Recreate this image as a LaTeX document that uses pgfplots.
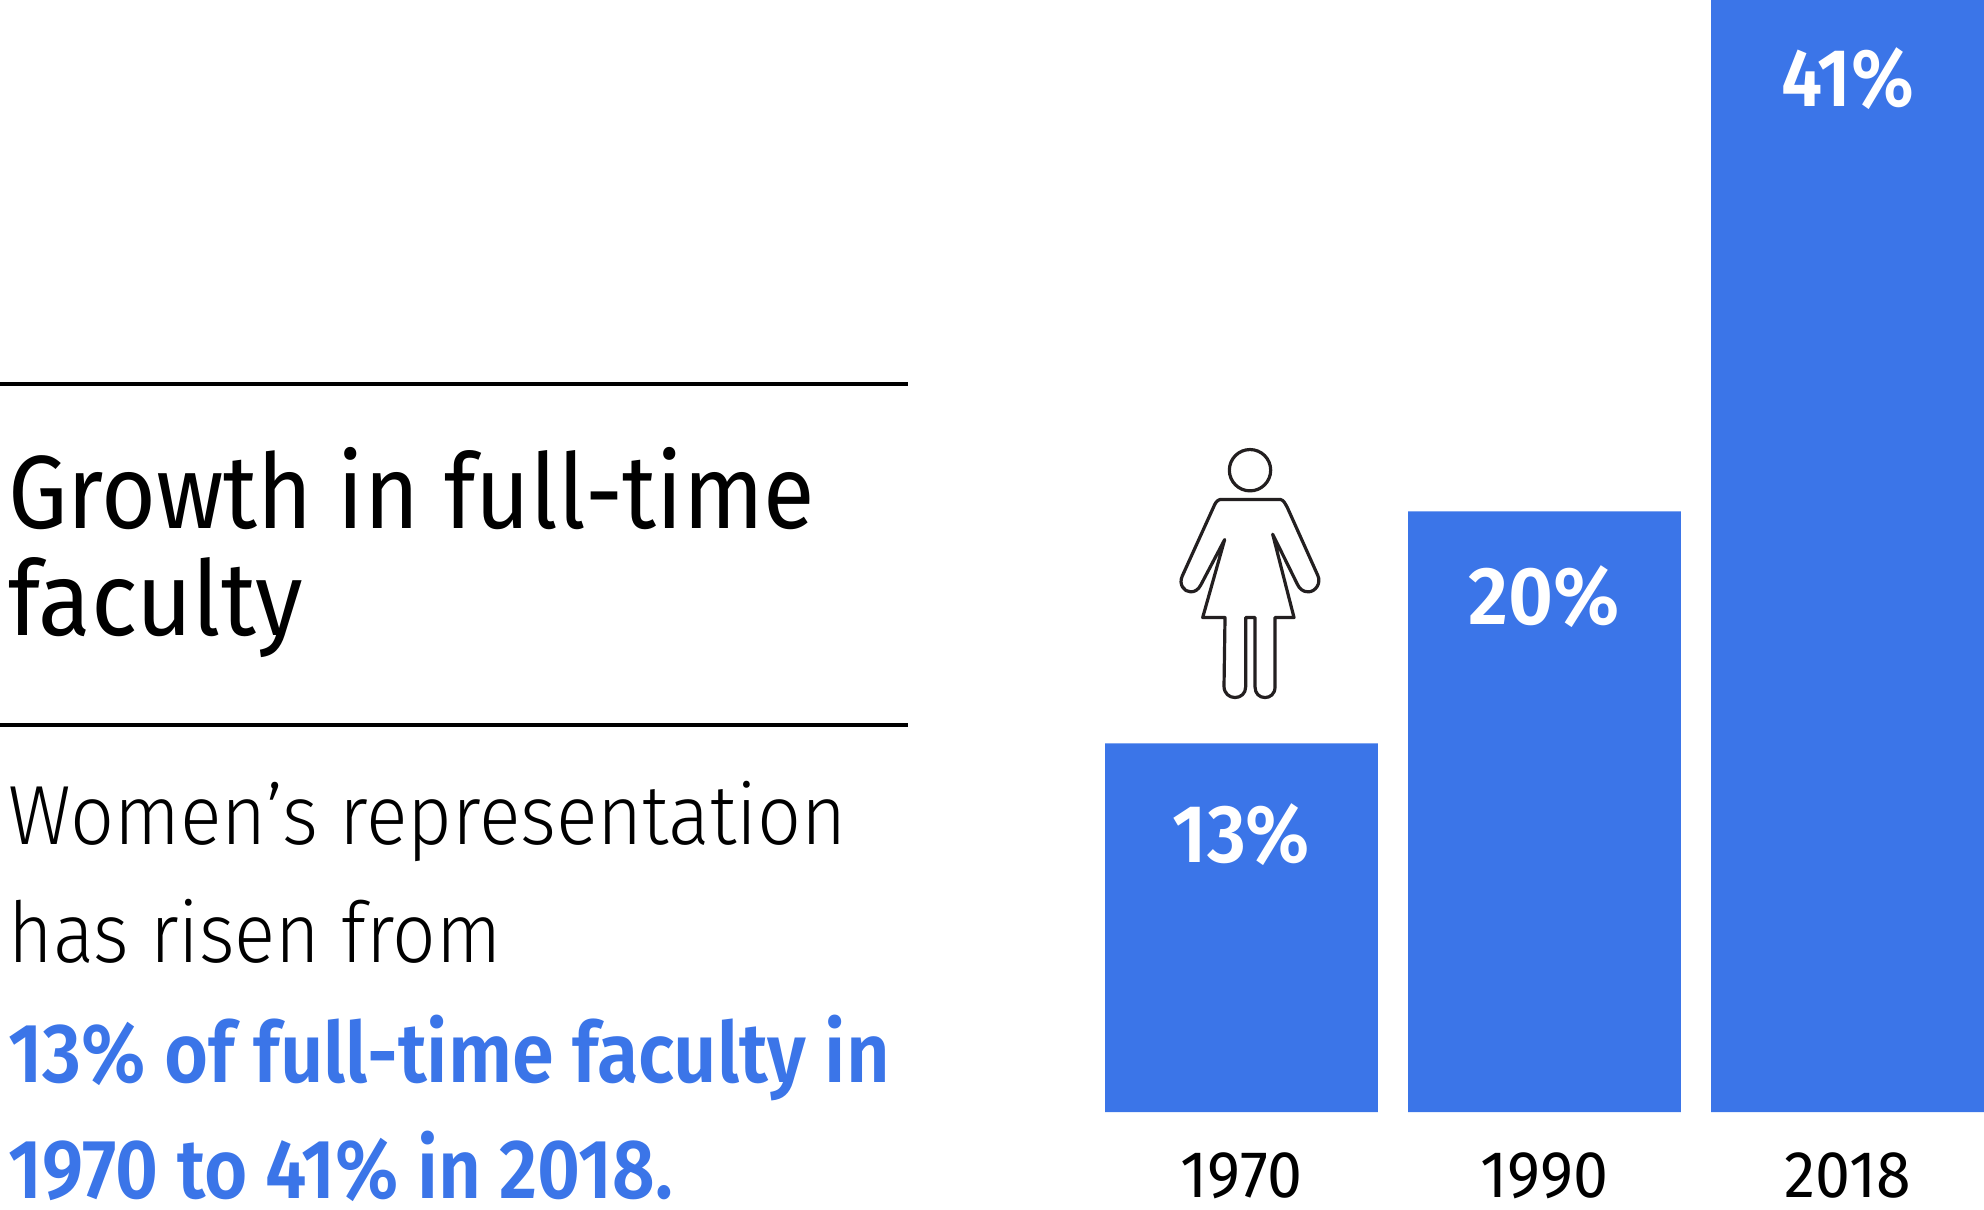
\documentclass[border=0pt]{standalone}
\usepackage{pgfplots}
\pgfplotsset{compat=1.18}
\usepackage{fontspec}
\setmainfont{Fira Sans}
\newfontfamily\lightf{Fira Sans Light}
\newfontfamily\medf{Fira Sans Medium}
\newfontfamily\semif{Fira Sans SemiBold}
\definecolor{barblue}{HTML}{3B75E8}
\definecolor{ink}{HTML}{231F20}
\begin{document}
\begin{tikzpicture}
\begin{scope}[x=0.5pt,y=-0.5pt]
\path[use as bounding box] (0,0) rectangle (1984,1209);
\draw[black,line width=1.8pt] (0,384) -- (908,384);
\draw[black,line width=1.8pt] (0,725) -- (908,725);
\node[anchor=base west,inner sep=0,xscale=0.905,font=\fontsize{52}{52}\selectfont\rmfamily] at (8,528) {Growth in full-time};
\node[anchor=base west,inner sep=0,xscale=0.93,font=\fontsize{52}{52}\selectfont\rmfamily] at (8,635) {faculty};
\node[anchor=base west,inner sep=0,xscale=0.92,font=\fontsize{42}{42}\selectfont\lightf] at (8,844) {Women’s representation};
\node[anchor=base west,inner sep=0,xscale=0.91,font=\fontsize{42}{42}\selectfont\lightf] at (8,962) {has risen from};
\node[anchor=base west,inner sep=0,xscale=0.90,text=barblue,font=\fontsize{42}{42}\selectfont\semif] at (8,1082) {13\% of full-time faculty in};
\node[anchor=base west,inner sep=0,xscale=0.885,text=barblue,font=\fontsize{42}{42}\selectfont\semif] at (8,1198) {1970 to 41\% in 2018.};
\end{scope}
\begin{axis}[
  at={(552.5pt,-556pt)}, anchor=south west,
  scale only axis, width=439.5pt, height=556pt,
  xmin=-0.45, xmax=2.45, ymin=0, ymax=41,
  axis line style={draw=none}, ytick=\empty,
  xtick={0,1,2}, xticklabels={1970,1990,2018},
  major tick length=0pt,
  tick label style={/pgf/number format/assume math mode=true},
  xticklabel style={font=\fontsize{33}{33}\selectfont\rmfamily, text=black, inner sep=0pt, anchor=base, yshift=-42.5pt, xscale=0.95},
  clip=false,
]
\addplot[ybar, bar width=0.9, fill=barblue, draw=none, bar shift=0pt] coordinates {(0,13.6) (1,22.15) (2,41)};
\node[anchor=base,inner sep=0,xscale=0.92,text=white,font=\fontsize{41}{41}\selectfont\semif] at (axis cs:0,9.22) {13\%};
\node[anchor=base,inner sep=0,xscale=0.95,text=white,font=\fontsize{41}{41}\selectfont\semif] at (axis cs:1,17.99) {20\%};
\node[anchor=base,inner sep=0,xscale=0.9,text=white,font=\fontsize{41}{41}\selectfont\semif] at (axis cs:2,37.09) {41\%};
\end{axis}
\begin{scope}[shift={(575pt,-215pt)},x=0.16667pt,y=-0.16667pt,draw=ink,line width=1.6pt,line join=round]
\draw (300,120) circle[radius=62];
\draw (210,208) -- (392,208) .. controls (402,210) and (406,222) .. (412,232) -- (503,435)
 .. controls (515,460) and (495,485) .. (475,485) .. controls (458,485) and (448,475) .. (442,462)
 -- (368,312) -- (432,562) -- (375,562) -- (375,770) .. controls (375,792) and (360,802) .. (345,802)
 .. controls (328,802) and (315,790) .. (315,770) -- (315,562) -- (287,562) -- (287,770)
 .. controls (287,790) and (272,802) .. (255,802) .. controls (238,802) and (222,790) .. (222,768) -- (225,562)
 -- (158,562) -- (224,328) -- (152,465) .. controls (145,478) and (135,485) .. (122,485)
 .. controls (102,485) and (85,462) .. (97,437) -- (190,232) .. controls (195,220) and (200,210) .. (210,208) -- cycle;
\end{scope}
\end{tikzpicture}
\end{document}
